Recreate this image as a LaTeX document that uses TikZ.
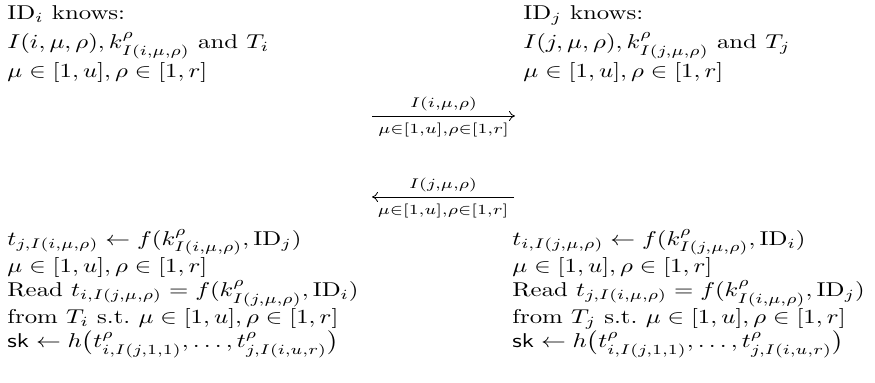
\documentclass[tikz,border=0pt]{standalone}
\usepackage{amsmath}
\usetikzlibrary{arrows.meta}
\begin{document}
\begin{tikzpicture}[x=0.5pt,y=-0.5pt,
  txt/.style={anchor=north west,inner sep=0pt,align=left,xscale=1.24},
  toptxt/.style={txt,font=\fontsize{10}{14.5}\selectfont},
  bottxt/.style={txt,font=\fontsize{10}{12}\selectfont},
  lbl/.style={inner sep=0pt,xscale=1.24},
  msg/.style={line width=0.4pt,-{To[length=3pt,width=5pt]}}]
\useasboundingbox (0,0) rectangle (875,383);
\node[toptxt] (tl) at (7,5) {ID$_i$ knows:\\
$I(i,\mu,\rho),k^\rho_{I(i,\mu,\rho)}$ and $T_i$\\
$\mu\in[1,u],\rho\in[1,r]$};
\node[toptxt] (tr) at (523,5) {ID$_j$ knows:\\
$I(j,\mu,\rho),k^\rho_{I(j,\mu,\rho)}$ and $T_j$\\
$\mu\in[1,u],\rho\in[1,r]$};
\node[bottxt] (bl) at (7,229) {$t_{j,I(i,\mu,\rho)}\leftarrow f(k^\rho_{I(i,\mu,\rho)},\mathrm{ID}_j)$\\
$\mu\in[1,u],\rho\in[1,r]$\\
Read $t_{i,I(j,\mu,\rho)}=f(k^\rho_{I(j,\mu,\rho)},\mathrm{ID}_i)$\\
from $T_i$ s.t.\ $\mu\in[1,u],\rho\in[1,r]$\\
$\mathsf{sk}\leftarrow h\big(t^\rho_{i,I(j,1,1)},\ldots,t^\rho_{j,I(i,u,r)}\big)$};
\node[bottxt] (br) at (512,229) {$t_{i,I(j,\mu,\rho)}\leftarrow f(k^\rho_{I(j,\mu,\rho)},\mathrm{ID}_i)$\\
$\mu\in[1,u],\rho\in[1,r]$\\
Read $t_{j,I(i,\mu,\rho)}=f(k^\rho_{I(i,\mu,\rho)},\mathrm{ID}_j)$\\
from $T_j$ s.t.\ $\mu\in[1,u],\rho\in[1,r]$\\
$\mathsf{sk}\leftarrow h\big(t^\rho_{i,I(j,1,1)},\ldots,t^\rho_{j,I(i,u,r)}\big)$};
\coordinate (a1s) at (372,116);
\coordinate (a1e) at (515,116);
\coordinate (a2s) at (514,197);
\coordinate (a2e) at (372,197);
\draw[msg] (a1s) -- (a1e)
  node[lbl,midway,above=2.5pt] (l1a) {$\scriptstyle I(i,\mu,\rho)$}
  node[lbl,midway,below=3.5pt] (l1b) {$\scriptstyle \mu\in[1,u],\rho\in[1,r]$};
\draw[msg] (a2s) -- (a2e)
  node[lbl,midway,above=2.5pt] (l2a) {$\scriptstyle I(j,\mu,\rho)$}
  node[lbl,midway,below=3.5pt] (l2b) {$\scriptstyle \mu\in[1,u],\rho\in[1,r]$};
\end{tikzpicture}
\end{document}
